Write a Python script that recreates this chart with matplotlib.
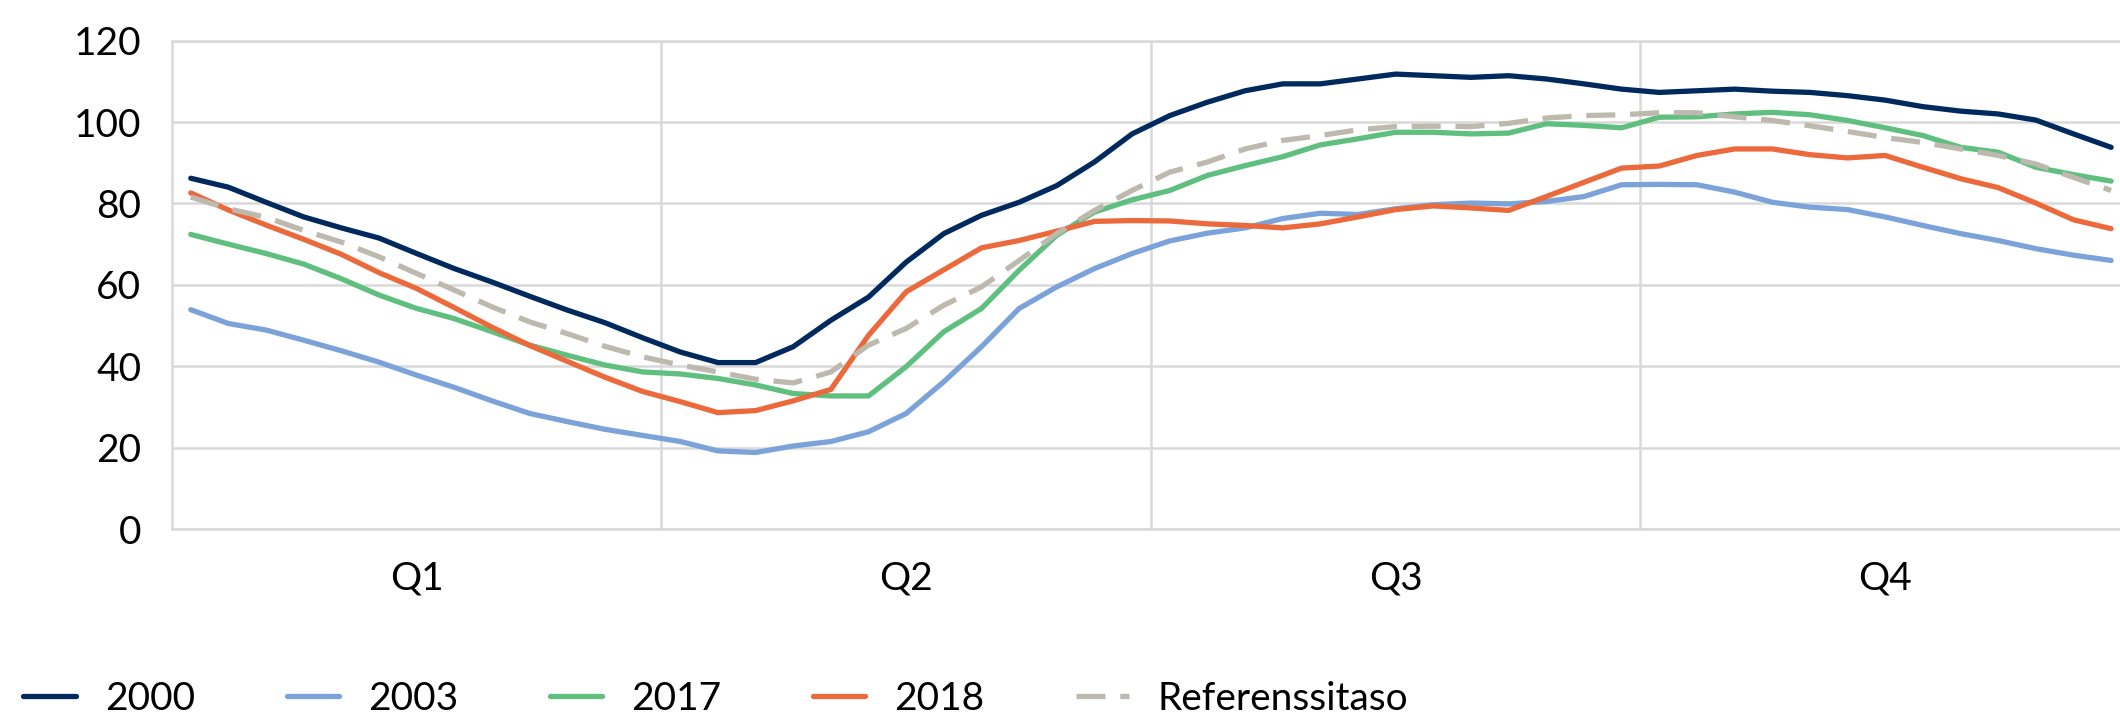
import matplotlib
matplotlib.use("Agg")
import matplotlib.pyplot as plt

plt.rcParams['font.family'] = ['Lato', 'DejaVu Sans']

# weekly values, 13 weeks per quarter
quarters = ["Q1", "Q2", "Q3", "Q4"]

s2000 = [86.2, 84.0, 80.3, 76.7, 74.0, 71.5, 67.7, 64.0, 60.7, 57.2, 53.8, 50.7, 47.0,
         43.5, 40.9, 40.9, 44.8, 51.3, 57.0, 65.6, 72.6, 77.1, 80.3, 84.4, 90.2, 97.1,
         101.6, 104.9, 107.7, 109.4, 109.4, 110.6, 111.8, 111.4, 111.0, 111.4, 110.6, 109.4, 108.1,
         107.3, 107.7, 108.1, 107.6, 107.3, 106.5, 105.4, 103.8, 102.7, 102.0, 100.5, 97.1, 93.8]

s2003 = [53.9, 50.5, 48.9, 46.4, 43.8, 41.0, 37.8, 34.8, 31.5, 28.4, 26.4, 24.5, 23.0,
         21.5, 19.2, 18.8, 20.4, 21.5, 23.9, 28.4, 36.2, 44.8, 54.2, 59.5, 64.0, 67.7,
         70.8, 72.7, 74.0, 76.3, 77.6, 77.3, 78.7, 79.7, 80.1, 79.9, 80.5, 81.7, 84.6,
         84.7, 84.6, 82.8, 80.3, 79.1, 78.5, 76.7, 74.6, 72.6, 70.9, 68.9, 67.3, 66.0]

s2017 = [72.4, 70.0, 67.7, 65.1, 61.5, 57.5, 54.2, 51.7, 48.5, 45.2, 42.7, 40.3, 38.6,
         38.1, 37.0, 35.4, 33.3, 32.7, 32.7, 39.9, 48.5, 54.2, 63.6, 72.2, 77.9, 80.9,
         83.2, 86.9, 89.3, 91.5, 94.4, 95.9, 97.5, 97.5, 97.1, 97.3, 99.6, 99.2, 98.6,
         101.2, 101.3, 102.0, 102.4, 101.8, 100.4, 98.6, 96.7, 93.8, 92.6, 88.9, 87.1, 85.5]

s2018 = [82.6, 78.4, 74.7, 71.2, 67.5, 63.0, 59.1, 54.4, 49.6, 45.1, 41.2, 37.3, 33.8,
         31.3, 28.6, 29.1, 31.5, 34.3, 47.6, 58.3, 63.7, 69.1, 70.9, 73.2, 75.6, 75.8,
         75.7, 75.0, 74.6, 74.0, 75.0, 76.7, 78.5, 79.4, 78.9, 78.3, 81.7, 85.2, 88.7,
         89.2, 91.8, 93.4, 93.4, 92.0, 91.2, 91.8, 88.9, 86.1, 83.9, 80.1, 76.0, 73.8]

ref = [81.6, 78.7, 76.6, 73.4, 70.5, 66.9, 62.8, 58.7, 54.6, 50.9, 48.0, 44.9, 42.3,
       40.3, 38.6, 36.8, 35.9, 38.6, 45.2, 49.3, 55.0, 59.5, 66.0, 72.6, 78.3, 83.2,
       87.7, 90.2, 93.4, 95.5, 96.7, 98.1, 98.9, 99.0, 98.9, 99.7, 101.0, 101.6, 101.8,
       102.3, 102.3, 101.3, 100.4, 99.1, 97.7, 96.2, 95.0, 93.4, 91.8, 89.7, 86.4, 83.2]

weeks = list(range(len(s2000)))
grid_col = "#d9d9d9"

fig = plt.figure(figsize=(21.2, 7.17), dpi=100)
ax = fig.add_axes([0.0811, 0.2622, 0.9236, 0.681])

lw = 3.8
ax.plot(weeks, s2000, color="#002A5E", lw=lw, label="2000", solid_capstyle="round", solid_joinstyle="round")
ax.plot(weeks, s2003, color="#7BA3D9", lw=lw, label="2003", solid_capstyle="round", solid_joinstyle="round")
ax.plot(weeks, s2017, color="#5EBF7E", lw=lw, label="2017", solid_capstyle="round", solid_joinstyle="round")
ax.plot(weeks, s2018, color="#EC693B", lw=lw, label="2018", solid_capstyle="round", solid_joinstyle="round")
ax.plot(weeks, ref, color="#BDB9AF", lw=lw, label="Referenssitaso", dashes=(5.5, 2.8))

ax.set_xlim(-0.5, 51.5)
ax.set_ylim(0, 120)
ax.set_yticks(range(0, 121, 20))

# quarter boundaries as vertical grid, quarter names centred
ax.set_xticks([12.5, 25.5, 38.5], minor=False)
ax.set_xticklabels([])
ax.set_xticks([6, 19, 32, 45], minor=True)
ax.set_xticklabels(quarters, minor=True)
ax.grid(True, which="major", color=grid_col, lw=1.8)
ax.set_axisbelow(True)

ax.tick_params(axis="y", length=0, pad=22, labelsize=28)
ax.tick_params(axis="x", which="both", length=0, pad=23, labelsize=28)
for s in ax.spines.values():
    s.set_color(grid_col)
    s.set_linewidth(1.8)

fig.legend(loc="center left", bbox_to_anchor=(0.011, 0.025), ncol=5, frameon=False,
           fontsize=28, handlelength=1.35, handletextpad=0.75, columnspacing=2.35,
           borderpad=0, borderaxespad=0)

fig.savefig("out.png", dpi=100)
